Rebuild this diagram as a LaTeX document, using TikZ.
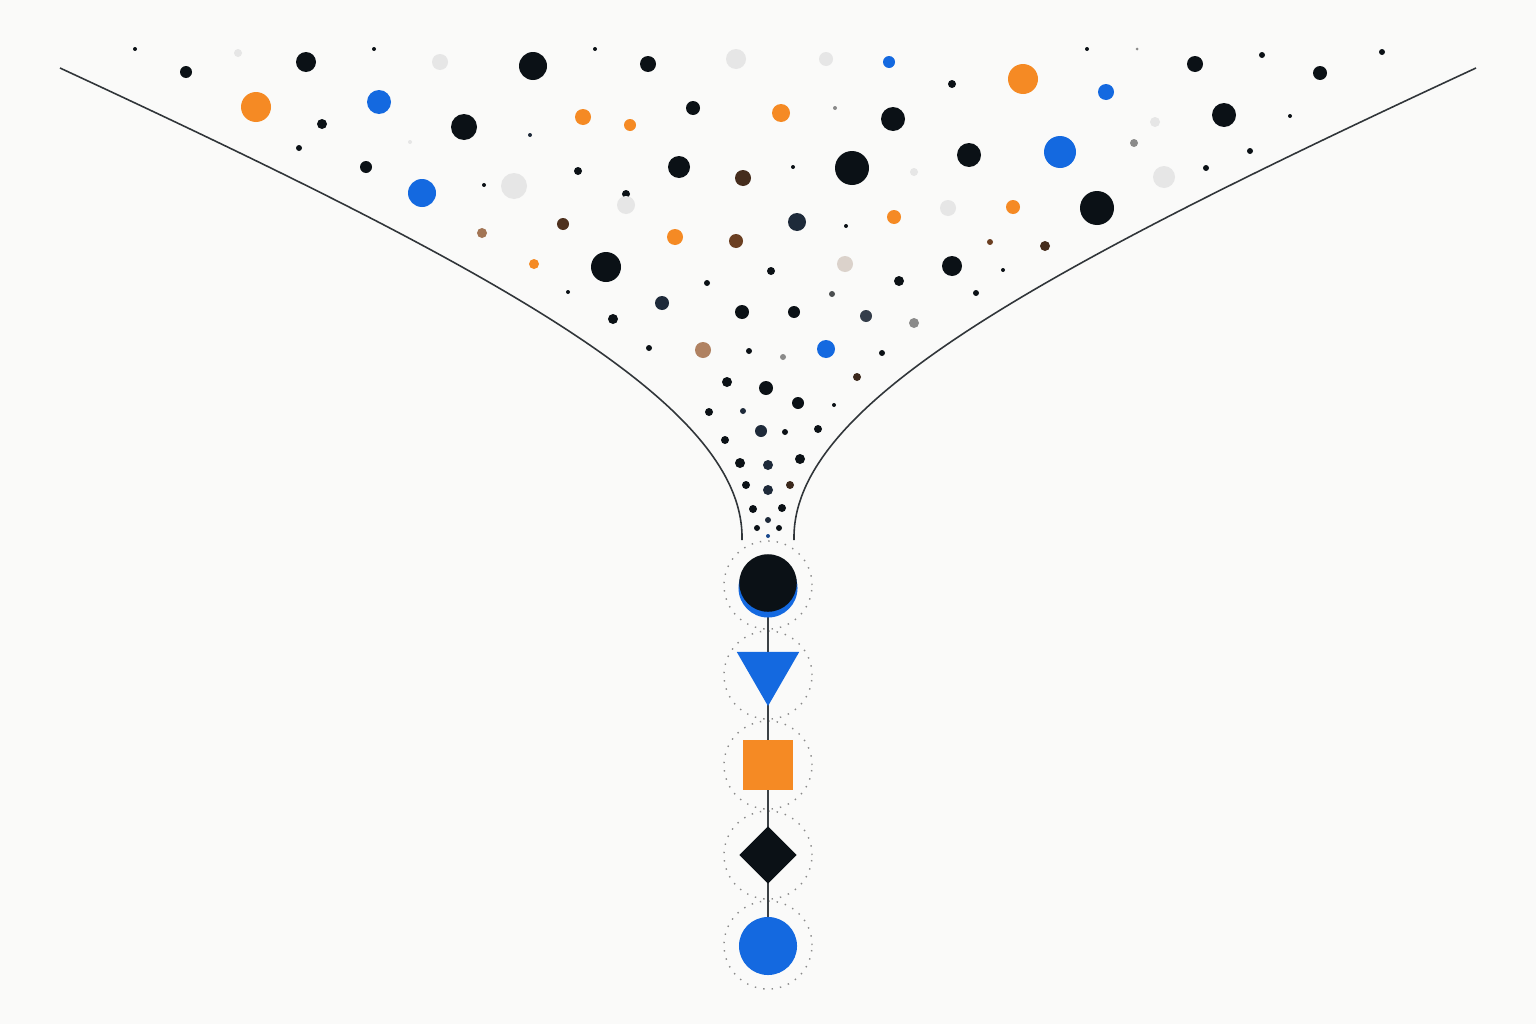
\documentclass[tikz,border=0pt]{standalone}
\usetikzlibrary{shapes.geometric}

\definecolor{paper}{HTML}{FAFAF9}
\definecolor{ink}{HTML}{0B1116}
\definecolor{azure}{HTML}{1469E0}
\definecolor{amber}{HTML}{F58A24}
\definecolor{mist}{HTML}{E6E6E6}
\definecolor{umber}{HTML}{6B3F22}
\definecolor{tan}{HTML}{B08262}
\definecolor{slate}{HTML}{1E2A3A}
\definecolor{ash}{HTML}{8A8A8A}

\tikzset{
  wall/.style={line width=0.45pt, ink!85},
  ring/.style={circle, draw=ash, dotted, line width=0.4pt, minimum size=0.88cm, inner sep=0pt},
  token/.style={inner sep=0pt, draw=none},
}

\begin{document}
\begin{tikzpicture}[x=0.01cm, y=-0.01cm]
\fill[paper] (0,0) rectangle (1536,1024);
\useasboundingbox (0,0) rectangle (1536,1024);

% funnel walls
\draw[wall] (60,68) .. controls (500,272) and (745,405) .. (742,540);
\draw[wall] (1476,68) .. controls (1036,272) and (791,405) .. (794,540);

% scattered dots
\foreach \x/\y/\r/\c in {
  135/49/2/ink, 186/72/6/ink, 238/53/4/mist, 306/62/10/ink, 374/49/2/ink,
  440/62/8/mist, 533/66/14/ink, 595/49/2/ink, 648/64/8/ink, 736/59/10/mist,
  826/59/7/mist, 889/62/6/azure, 1087/49/2/ink, 1137/49/1.5/ash, 1195/64/8/ink,
  1262/55/3/ink, 1320/73/7/ink, 1382/52/3/ink, 1023/79/15/amber, 1106/92/8/azure,
  952/84/4/ink, 256/107/15/amber, 379/102/12/azure, 322/124/5/ink, 464/127/13/ink,
  530/135/2/slate, 583/117/8/amber, 630/125/6/amber, 693/108/7/ink, 781/113/9/amber,
  835/108/2/ash, 893/119/12/ink, 410/142/2/mist, 299/148/3/ink,
  366/167/6/ink, 422/193/14/azure, 484/185/2/ink, 514/186/13/mist, 578/171/4/ink,
  626/194/4/ink, 626/205/9/mist, 679/167/11/ink, 743/178/8/umber!60!ink, 793/167/2/ink,
  852/168/17/ink, 914/172/4/mist, 969/155/12/ink, 1060/152/16/azure, 1134/143/4/ash,
  1155/122/5/mist, 1224/115/12/ink, 1290/116/2/ink, 1250/151/3/ink, 1206/168/3/ink,
  1164/177/11/mist, 1097/208/17/ink, 1013/207/7/amber, 948/208/8/mist, 894/217/7/amber,
  797/222/9/slate, 846/226/2/ink, 563/224/6/umber!70!ink, 482/233/5/tan!80!umber,
  675/237/8/amber, 736/241/7/umber, 534/264/5/amber, 606/267/15/ink, 707/283/3/ink,
  771/271/4/ink, 845/264/8/mist!80!tan, 899/281/5/ink, 952/266/10/ink, 990/242/3/umber,
  1045/246/5/umber!60!ink, 1003/270/2/ink, 976/293/3/ink, 568/292/2/ink, 662/303/7/slate,
  613/319/5/ink, 742/312/7/ink, 794/312/6/ink, 832/294/3/ash!50!ink, 866/316/6/slate!80!ash,
  914/323/5/ash, 703/350/8/tan, 649/348/3/ink, 749/351/3/ink, 783/357/3/ash,
  826/349/9/azure, 882/353/3/ink, 857/377/4/umber!50!ink, 727/382/5/ink, 766/388/7/ink,
  798/403/6/ink, 834/405/2/ink, 709/412/4/ink, 743/411/3/slate, 761/431/6/slate,
  785/432/3/ink, 818/429/4/ink, 725/440/4/ink, 740/463/5/ink, 768/465/5/slate,
  800/459/5/ink, 746/485/4/ink, 768/490/5/slate, 790/485/4/umber!50!ink, 753/509/4/ink,
  782/508/4/ink, 768/520/3/slate, 757/528/3/ink, 779/528/3/ink, 768/536/2/azure!50!slate}
  \fill[\c] (\x,\y) circle[radius=\r*0.01cm];

% chain of shapes
\foreach \i/\y in {1/585, 2/675, 3/765, 4/855, 5/945}
  \node[ring] (c\i) at (768,\y) {};
\draw[line width=0.6pt, ink!80] (c1.center) -- (c5.center);
\node[token, circle, fill=azure, minimum size=0.59cm] (s0) at (768,588) {};
\node[token, circle, fill=ink, minimum size=0.575cm] (s1) at (768,583) {};
\node[token, regular polygon, regular polygon sides=3, shape border rotate=180,
      fill=azure, minimum size=0.72cm] (s2) at (768,670) {};
\node[token, rectangle, fill=amber, minimum size=0.49cm] (s3) at (768,765) {};
\node[token, diamond, fill=ink, minimum width=0.58cm, minimum height=0.58cm] (s4) at (768,855) {};
\node[token, circle, fill=azure, minimum size=0.58cm] (s5) at (768,946) {};
\end{tikzpicture}
\end{document}
